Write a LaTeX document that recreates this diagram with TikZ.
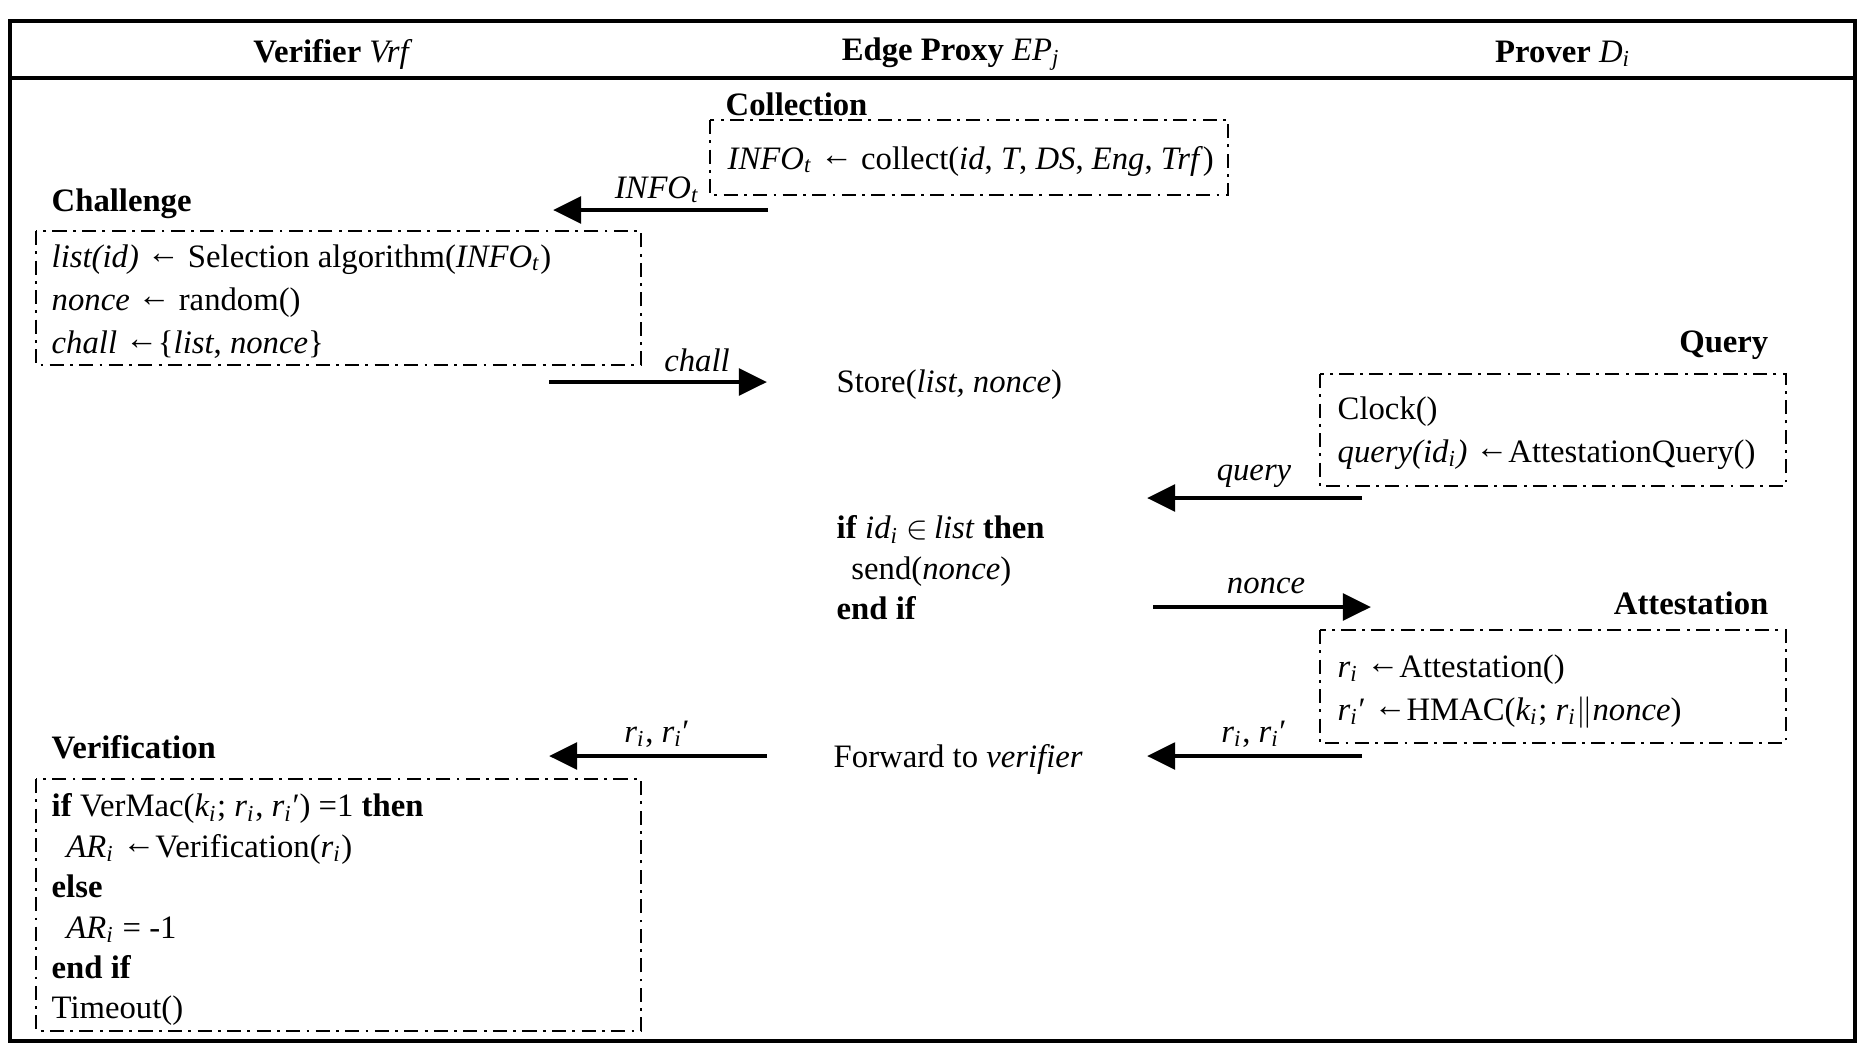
\documentclass[tikz,border=0pt]{standalone}
\usepackage{fontspec}
\setmainfont{Liberation Serif}
\usetikzlibrary{arrows.meta}
\newcommand{\ix}[1]{\textsubscript{\itshape #1}}
\newcommand{\lar}{\raisebox{0.12em}{←}}

\begin{document}
\begin{tikzpicture}[x=0.01cm,y=-0.01cm,
  every node/.style={font=\fontsize{9.3}{12.2}\selectfont,inner sep=0pt},
  title/.style={font=\fontsize{9.3}{12.2}\selectfont\bfseries},
  phase/.style={line width=0.7pt,dash pattern=on 4pt off 1.8pt on 0.8pt off 1.8pt},
  msg/.style={line width=1.3pt,-{Triangle[length=8pt,width=7.5pt]}}]
\useasboundingbox (0,0) rectangle (1864,1057);
\draw [line width=1pt] (10,21) rectangle (1855,1041);
\draw [line width=1pt] (10,78)--(1855,78);
\node (vrf) at (333,54) {\textbf{Verifier} \textit{Vrf}};
\node (ep) at (951,54) {\textbf{Edge Proxy} \textit{EP\ix{j}}};
\node (prv) at (1563,54) {\textbf{Prover} \textit{D\ix{i}}};
% collection
\node [title,anchor=west] (coll) at (725,104) {Collection};
\draw [phase] (710,120) rectangle (1228,195);
\node [anchor=west] (collect) at (727,161) {\textit{INFO\ix{t}} \lar{} collect(\textit{id}, \textit{T}, \textit{DS}, \textit{Eng}, \textit{Trf})};
\coordinate (infoS) at (768,210);
\coordinate (infoE) at (553,210);
\draw [msg] (infoS)--(infoE);
\node (infolbl) at (657,190) {\textit{INFO\ix{t}}};
% challenge
\node [title,anchor=west] (chal) at (51,204) {Challenge};
\draw [phase] (36,231) rectangle (641,365);
\node [anchor=north west,align=left] (chaltxt) at (51,244) {\textit{list(id)} \lar{} Selection algorithm(\textit{INFO\ix{t}})\\
\textit{nonce} \lar{} random()\\
\textit{chall} \lar\{\textit{list}, \textit{nonce}\}};
\coordinate (challS) at (549,382);
\coordinate (challE) at (767,382);
\draw [msg] (challS)--(challE);
\node (challlbl) at (697,360) {\textit{chall}};
\node [anchor=west] (store) at (836,385) {Store(\textit{list, nonce})};
% query
\node [title,anchor=east] (qry) at (1769,345) {Query};
\draw [phase] (1320,374) rectangle (1786,486);
\node [anchor=north west,align=left] (qrytxt) at (1337,396) {Clock()\\
\textit{query(id\ix{i})} \lar AttestationQuery()};
\coordinate (qS) at (1362,498);
\coordinate (qE) at (1147,498);
\draw [msg] (qS)--(qE);
\node (qlbl) at (1254,476) {\textit{query}};
\node [anchor=north west,align=left,font=\fontsize{9.3}{11.5}\selectfont] (check) at (836,515) {\textbf{if} \textit{id\ix{i}} $\in$\,\textit{list} \textbf{then}\\
\hspace*{0.45em}send(\textit{nonce})\\
\textbf{end if}};
\coordinate (nS) at (1153,607);
\coordinate (nE) at (1371,607);
\draw [msg] (nS)--(nE);
\node (nlbl) at (1266,586) {\textit{nonce}};
% attestation
\node [title,anchor=east] (att) at (1769,603) {Attestation};
\draw [phase] (1320,630) rectangle (1786,743);
\node [anchor=north west,align=left] (atttxt) at (1337,654) {\textit{r\ix{i}} \lar Attestation()\\
\textit{r\ix{i}}′ \lar HMAC(\textit{k\ix{i}}; \textit{r\ix{i}}$\|$\textit{nonce})};
\coordinate (rS) at (1362,756);
\coordinate (rE) at (1147,756);
\draw [msg] (rS)--(rE);
\node (rlbl) at (1254,734) {\textit{r\ix{i}}, \textit{r\ix{i}}′};
\node [anchor=west] (fwd) at (833,759) {Forward to \textit{verifier}};
\coordinate (fS) at (767,756);
\coordinate (fE) at (549,756);
\draw [msg] (fS)--(fE);
\node (flbl) at (657,734) {\textit{r\ix{i}}, \textit{r\ix{i}}′};
% verification
\node [title,anchor=west] (ver) at (51,747) {Verification};
\draw [phase] (36,779) rectangle (641,1031);
\node [anchor=north west,align=left,font=\fontsize{9.3}{11.5}\selectfont] (vertxt) at (51,793) {\textbf{if} VerMac(\textit{k\ix{i}}; \textit{r\ix{i}}, \textit{r\ix{i}}′) =1 \textbf{then}\\
\hspace*{0.45em}\textit{AR\ix{i}} \lar Verification(\textit{r\ix{i}})\\
\textbf{else}\\
\hspace*{0.45em}\textit{AR\ix{i}} = -1\\
\textbf{end if}\\
Timeout()};
\end{tikzpicture}
\end{document}
